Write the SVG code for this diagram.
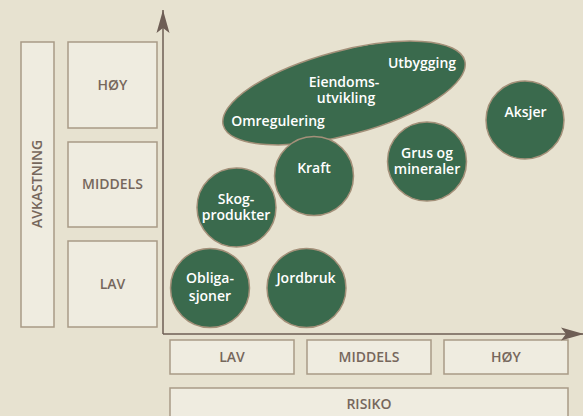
<svg xmlns="http://www.w3.org/2000/svg" width="583" height="416" viewBox="0 0 583 416">
<style>
.box{fill:#efece0;stroke:#a99b86;stroke-width:1.5}
.lbl{font-family:"Open Sans","Liberation Sans",sans-serif;font-weight:600;font-size:14px;fill:#76675c;text-anchor:middle}
.node{fill:#3a6a4d;stroke:#a39079;stroke-width:1.5}
.wt{font-family:"Open Sans","Liberation Sans",sans-serif;font-weight:600;font-size:14px;fill:#ffffff;text-anchor:middle}
.axis{stroke:#6e5e55;stroke-width:1.5;fill:none}
</style>
<defs>
<marker id="ah" markerWidth="24" markerHeight="14" refX="23" refY="7" orient="auto" markerUnits="userSpaceOnUse">
<path d="M23,7 L0,0.5 L5,7 L0,13.5 Z" fill="#6e5e55"/>
</marker>
</defs>
<rect width="583" height="416" fill="#e7e2d0"/>
<g id="avkastning"><rect class="box" x="21" y="42" width="33" height="285"/><text class="lbl" transform="translate(42,184) rotate(-90)" x="0" y="0">AVKASTNING</text></g>
<g id="y-hoy"><rect class="box" x="68" y="42" width="89" height="86"/><text class="lbl" x="112.5" y="90">HØY</text></g>
<g id="y-middels"><rect class="box" x="68" y="142" width="89" height="85"/><text class="lbl" x="112.5" y="189">MIDDELS</text></g>
<g id="y-lav"><rect class="box" x="68" y="241" width="89" height="86"/><text class="lbl" x="112.5" y="289">LAV</text></g>
<g id="x-lav"><rect class="box" x="170" y="340" width="124" height="34"/><text class="lbl" x="232" y="362">LAV</text></g>
<g id="x-middels"><rect class="box" x="307" y="340" width="124" height="34"/><text class="lbl" x="369" y="362">MIDDELS</text></g>
<g id="x-hoy"><rect class="box" x="444" y="340" width="124" height="34"/><text class="lbl" x="506" y="362">HØY</text></g>
<g id="risiko"><rect class="box" x="170" y="388" width="398" height="34"/><text class="lbl" x="369" y="409">RISIKO</text></g>
<g id="connectors">
<path class="axis" d="M163,334 L163,10" marker-end="url(#ah)"/>
<path class="axis" d="M163,334 L584,334" marker-end="url(#ah)"/>
</g>
<g id="eiendom"><ellipse class="node" cx="344" cy="93" rx="125" ry="42" transform="rotate(-15 344 93)"/>
<text class="wt" x="422" y="68">Utbygging</text>
<text class="wt" x="344" y="87">Eiendoms-</text>
<text class="wt" x="346" y="103">utvikling</text>
<text class="wt" x="278" y="126">Omregulering</text></g>
<g id="kraft"><circle class="node" cx="314" cy="176" r="39.5"/><text class="wt" x="314" y="173">Kraft</text></g>
<g id="grus"><circle class="node" cx="427" cy="161.5" r="39.5"/><text class="wt" x="427" y="158">Grus og</text><text class="wt" x="427" y="174">mineraler</text></g>
<g id="aksjer"><circle class="node" cx="525" cy="120" r="39"/><text class="wt" x="525.5" y="117">Aksjer</text></g>
<g id="skog"><circle class="node" cx="236.5" cy="207.5" r="39.5"/><text class="wt" x="236" y="204">Skog-</text><text class="wt" x="236" y="220">produkter</text></g>
<g id="obligasjoner"><circle class="node" cx="210" cy="288" r="39.5"/><text class="wt" x="210" y="283">Obliga-</text><text class="wt" x="210" y="301">sjoner</text></g>
<g id="jordbruk"><circle class="node" cx="306.5" cy="288" r="39.5"/><text class="wt" x="306" y="283">Jordbruk</text></g>
</svg>
